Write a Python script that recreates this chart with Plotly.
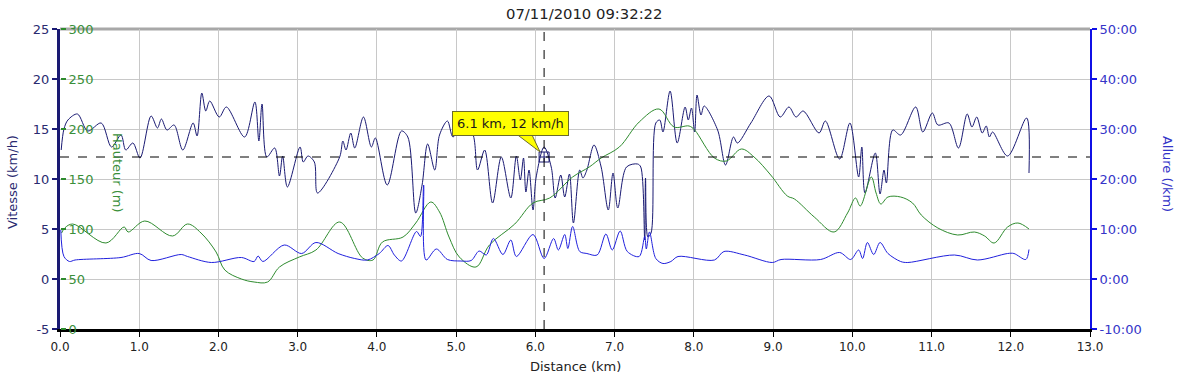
import plotly.graph_objects as go

# ---------------- data ----------------
speed_km = [0.015, 0.05, 0.10, 0.22, 0.35, 0.52, 0.65, 0.77, 0.83, 0.92, 1.01, 1.15, 1.23, 1.28, 1.35, 1.44,
            1.55, 1.68, 1.73, 1.79, 1.84, 1.89, 2.01, 2.10, 2.33, 2.46, 2.51, 2.55, 2.61, 2.71, 2.77, 2.81,
            2.87, 3.03, 3.07, 3.13, 3.21, 3.25, 3.53, 3.57, 3.61, 3.67, 3.72, 3.83, 3.93, 3.98, 4.13, 4.31,
            4.39, 4.49, 4.57, 4.64, 4.73, 4.79, 4.89, 4.96, 5.08, 5.21, 5.27, 5.36, 5.46, 5.57, 5.69, 5.76,
            5.81, 5.85, 5.88, 5.92, 5.97, 6.01, 6.11, 6.20, 6.25, 6.32, 6.37, 6.43, 6.48, 6.56, 6.60, 6.65,
            6.74, 6.83, 6.92, 6.98, 7.04, 7.15, 7.29, 7.33, 7.38, 7.39, 7.42, 7.46, 7.52, 7.57, 7.61, 7.70,
            7.79, 7.89, 7.93, 7.97, 8.01, 8.04, 8.09, 8.13, 8.30, 8.40, 8.50, 8.55, 8.72, 8.95, 9.09, 9.20,
            9.29, 9.38, 9.58, 9.66, 9.84, 9.97, 10.08, 10.12, 10.16, 10.29, 10.35, 10.40, 10.43, 10.51, 10.61,
            10.80, 10.89, 11.01, 11.08, 11.22, 11.34, 11.45, 11.51, 11.57, 11.64, 11.69, 11.73, 11.77, 11.96,
            12.20, 12.23]
speed_kmh = [12.9, 15.0, 15.9, 16.5, 14.8, 15.6, 13.2, 14.4, 12.9, 13.6, 12.1, 16.3, 15.1, 16.0, 14.9, 15.4,
             12.9, 15.6, 14.3, 18.6, 16.8, 17.8, 16.2, 17.2, 14.2, 17.7, 13.8, 17.5, 12.2, 13.1, 10.3, 12.3,
             9.2, 13.2, 11.7, 12.3, 11.7, 8.6, 12.2, 13.8, 12.9, 14.6, 13.1, 16.2, 13.2, 14.1, 9.4, 14.8,
             14.2, 6.6, 9.4, 13.5, 10.9, 14.4, 15.8, 14.2, 15.6, 14.5, 10.9, 12.9, 7.6, 12.2, 8.1, 12.3,
             9.9, 12.1, 8.7, 10.9, 6.9, 10.2, 13.2, 11.2, 8.1, 10.4, 8.2, 10.5, 5.6, 10.9, 10.1, 10.9,
             13.4, 11.2, 6.9, 10.6, 7.1, 11.2, 11.5, 11.2, 3.9, 10.1, 4.2, 4.6, 15.6, 15.9, 14.7, 18.8,
             13.6, 17.2, 15.9, 17.1, 14.7, 18.4, 16.4, 17.3, 14.9, 11.4, 14.2, 13.6, 15.6, 18.3, 16.2, 17.2,
             16.2, 16.8, 14.6, 15.8, 12.0, 15.6, 10.2, 13.2, 8.6, 12.6, 8.5, 10.9, 9.6, 14.9, 14.4,
             17.2, 14.7, 16.6, 15.4, 15.6, 13.1, 16.5, 15.2, 16.2, 14.6, 15.3, 14.2, 14.7, 12.3,
             16.1, 10.6]

alt_km = [0.02, 0.06, 0.16, 0.58, 0.81, 0.86, 1.07, 1.42, 1.61, 1.78, 1.97, 2.08, 2.29, 2.45, 2.62, 2.77,
          3.02, 3.23, 3.53, 3.82, 3.95, 4.07, 4.33, 4.49, 4.68, 4.79, 4.91, 5.04, 5.25, 5.42, 5.74, 5.97,
          6.18, 6.47, 6.68, 6.83, 7.06, 7.31, 7.56, 7.75, 7.94, 8.01, 8.26, 8.41, 8.60, 8.76, 8.97, 9.18,
          9.27, 9.52, 9.77, 9.94, 10.04, 10.10, 10.24, 10.30, 10.36, 10.45, 10.61, 10.76, 10.87, 11.08,
          11.33, 11.54, 11.67, 11.79, 11.96, 12.09, 12.23]
alt_m = [96, 101, 105, 86, 102, 97, 108, 93, 105, 96, 77, 59, 50, 47, 47, 62,
         72, 79, 107, 71, 69, 87, 92, 106, 127, 117, 92, 72, 62, 84, 105, 126,
         131, 152, 162, 171, 182, 207, 220, 202, 203, 199, 171, 168, 180, 172, 154, 133,
         130, 112, 97, 116, 131, 123, 152, 136, 125, 132, 132, 126, 114, 101,
         94, 97, 93, 86, 102, 106, 100]

pace_km = [0.01, 0.05, 0.12, 0.19, 0.77, 1.00, 1.15, 1.53, 1.61, 1.91, 2.29, 2.45, 2.50, 2.56, 2.83, 3.05,
           3.23, 3.51, 3.72, 3.88, 4.03, 4.14, 4.22, 4.31, 4.50, 4.55, 4.59, 4.62, 4.75, 4.89, 5.06, 5.19,
           5.29, 5.38, 5.47, 5.59, 5.69, 5.76, 5.97, 6.11, 6.23, 6.29, 6.37, 6.41, 6.47, 6.56, 6.65, 6.78,
           6.89, 6.97, 7.07, 7.16, 7.31, 7.38, 7.40, 7.44, 7.52, 7.61, 7.71, 7.80, 8.26, 8.38, 8.64, 8.99,
           9.10, 9.60, 9.84, 9.98, 10.08, 10.13, 10.19, 10.27, 10.35, 10.45, 10.61, 10.70, 11.29, 11.58,
           11.96, 12.04, 12.19, 12.23]
pace_min = [9.8, 4.5, 3.5, 3.8, 4.3, 5.1, 3.7, 4.9, 4.5, 3.3, 4.3, 3.5, 4.6, 3.5, 6.8, 5.1,
            7.3, 5.1, 4.1, 3.8, 5.1, 6.7, 4.8, 3.6, 9.5, 8.5, 18.8, 3.8, 6.0, 3.9, 3.6, 3.7,
            5.6, 4.8, 8.1, 4.9, 7.8, 4.5, 8.9, 4.1, 8.1, 5.8, 8.9, 6.1, 10.5, 5.5, 5.1, 4.8,
            9.0, 5.8, 9.6, 5.5, 4.5, 8.5, 6.0, 9.4, 4.1, 3.1, 3.5, 4.5, 3.8, 5.5, 4.8, 3.3,
            3.9, 3.9, 5.3, 3.9, 5.8, 4.1, 7.3, 4.9, 7.3, 5.1, 3.5, 3.3, 4.8, 3.8,
            5.1, 5.1, 3.9, 5.9]

distance_ticks = [float(i) for i in range(0, 14)]
speed_ticks = [-5, 0, 5, 10, 15, 20, 25]
speed_labels = ["-5", "0", "5", "10", "15", "20", "25"]
alt_ticks = [0, 50, 100, 150, 200, 250, 300]
pace_ticks = [-10, 0, 10, 20, 30, 40, 50]
pace_labels = ["-10:00", "0:00", "10:00", "20:00", "30:00", "40:00", "50:00"]

cursor_km = 6.11
cursor_speed = 12.2
cursor_label = "6.1 km, 12 km/h"
title_text = "07/11/2010 09:32:22"

# ---------------- style ----------------
FONT = "DejaVu Sans, Verdana, sans-serif"
NAVY = "#1a1a73"
NAVY_TXT = "#2a2a70"
GREEN = "#2e8b2e"
GREEN_TXT = "#3a8f3a"
BLUE = "#2020dd"
BLUE_AX = "#1010e6"
BLUE_TXT = "#3535c8"
GRID = "#c8c8c8"
TIP_FILL = "#ffff00"
TIP_BORDER = "#6b6b2a"

fig = go.Figure()

fig.add_trace(go.Scatter(x=pace_km, y=pace_min, yaxis="y3", mode="lines",
                         line=dict(color=BLUE, width=1, shape="spline", smoothing=0.9),
                         hoverinfo="skip", showlegend=False))
fig.add_trace(go.Scatter(x=alt_km, y=alt_m, yaxis="y2", mode="lines",
                         line=dict(color=GREEN, width=1, shape="spline", smoothing=1.0),
                         hoverinfo="skip", showlegend=False))
fig.add_trace(go.Scatter(x=speed_km, y=speed_kmh, yaxis="y", mode="lines",
                         line=dict(color=NAVY, width=1, shape="spline", smoothing=0.9),
                         hoverinfo="skip", showlegend=False))
fig.add_trace(go.Scatter(x=[cursor_km], y=[cursor_speed], yaxis="y", mode="markers",
                         marker=dict(symbol="square-cross-open", size=10, color=NAVY,
                                     line=dict(width=1, color=NAVY)),
                         hoverinfo="skip", showlegend=False))

# crosshair
fig.add_shape(type="line", xref="x", yref="paper", x0=cursor_km, x1=cursor_km, y0=0, y1=1,
              line=dict(color="black", width=1, dash="dash"))
fig.add_shape(type="line", xref="paper", yref="y", x0=0, x1=1, y0=cursor_speed, y1=cursor_speed,
              line=dict(color="black", width=1, dash="dash"))
# top border
fig.add_shape(type="line", xref="paper", yref="paper", x0=0, x1=1, y0=1, y1=1,
              line=dict(color="#a8a8a8", width=3), layer="below")
# tooltip callout tail (pixel offsets anchored at the cursor point)
fig.add_shape(type="path", xref="x", yref="y", xsizemode="pixel", ysizemode="pixel",
              xanchor=cursor_km, yanchor=cursor_speed,
              path="M -29 24 L -13 24 L -4 5 Z",
              fillcolor=TIP_FILL, line=dict(color=TIP_BORDER, width=1), layer="above")

annotations = [
    dict(text=title_text, xref="paper", yref="paper", x=0.5, y=1, xshift=9, yshift=16,
         showarrow=False, font=dict(family=FONT, size=14.8, color="#222"), xanchor="center", yanchor="middle"),
    dict(text="Distance (km)", xref="paper", yref="paper", x=0.5, y=0, yshift=-37,
         showarrow=False, font=dict(family=FONT, size=13, color="#222"), xanchor="center", yanchor="middle"),
    dict(text="Vitesse (km/h)", xref="paper", yref="paper", x=0, y=0.49, xshift=-48,
         showarrow=False, textangle=-90, font=dict(family=FONT, size=13, color=NAVY_TXT),
         xanchor="center", yanchor="middle"),
    dict(text="Hauteur (m)", xref="paper", yref="paper", x=0, y=0.52, xshift=58,
         showarrow=False, textangle=90, font=dict(family=FONT, size=13, color=GREEN_TXT),
         xanchor="center", yanchor="middle"),
    dict(text="Allure (/km)", xref="paper", yref="paper", x=1, y=0.517, xshift=77,
         showarrow=False, textangle=90, font=dict(family=FONT, size=13, color=BLUE_TXT),
         xanchor="center", yanchor="middle"),
    dict(text=cursor_label, xref="x", yref="y", x=cursor_km, y=cursor_speed,
         xshift=-34, yshift=34, showarrow=False, xanchor="center", yanchor="middle",
         bgcolor=TIP_FILL, bordercolor=TIP_BORDER, borderwidth=1, borderpad=4,
         font=dict(family=FONT, size=13, color="#1a1a1a")),
]

fig.update_layout(
    width=1178, height=382,
    margin=dict(l=60, r=88, t=29, b=53),
    paper_bgcolor="white", plot_bgcolor="white",
    font=dict(family=FONT, size=12, color="#222"),
    annotations=annotations,
    xaxis=dict(range=[0, 13], tickvals=distance_ticks, tickformat=".1f",
               ticks="outside", ticklen=5, tickcolor="black", tickwidth=1,
               showline=True, linecolor="black", linewidth=3,
               showgrid=True, gridcolor=GRID, gridwidth=1, zeroline=False, automargin=False,
               tickfont=dict(family=FONT, size=12, color="#222"), fixedrange=True),
    yaxis=dict(range=[-5, 25], tickvals=speed_ticks, ticktext=speed_labels,
               ticks="outside", ticklen=5, tickcolor=NAVY, tickwidth=2,
               showline=True, linecolor=NAVY, linewidth=3,
               showgrid=True, gridcolor=GRID, gridwidth=1, zeroline=False, automargin=False,
               tickfont=dict(family=FONT, size=13, color=NAVY_TXT), fixedrange=True),
    yaxis2=dict(range=[0, 300], tickvals=alt_ticks, overlaying="y", anchor="free", position=0,
                side="right", ticks="outside", ticklen=5, tickcolor=GREEN, tickwidth=2,
                showline=False, showgrid=False, zeroline=False, automargin=False,
                tickfont=dict(family=FONT, size=13, color=GREEN_TXT), fixedrange=True),
    yaxis3=dict(range=[-10, 50], tickvals=pace_ticks, ticktext=pace_labels, overlaying="y",
                anchor="x", side="right", ticks="outside", ticklen=5, tickcolor=BLUE_AX, tickwidth=2,
                showline=True, linecolor=BLUE_AX, linewidth=2, showgrid=False, zeroline=False,
                automargin=False,
                tickfont=dict(family=FONT, size=13, color=BLUE_TXT), fixedrange=True),
)

fig.write_html("out.html", config=dict(displayModeBar=False),
               post_script="document.body.style.margin='0';document.body.style.overflow='hidden';")
